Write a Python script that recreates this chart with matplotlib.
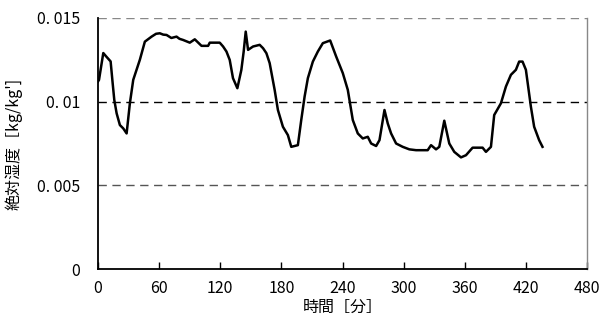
import matplotlib
matplotlib.use("Agg")
import matplotlib.pyplot as plt

plt.rcParams['font.family'] = ['Noto Sans CJK JP', 'DejaVu Sans']

# time [min] and absolute humidity [kg/kg']
minutes = [0, 1, 5.2, 8, 12.4, 14.4, 16, 18.3, 21.5, 24.8, 28.1, 31.3, 34.6, 41.1, 46,
           52.6, 57, 60.7, 64, 67.3, 72, 77.1, 80, 83.6, 90.1, 95, 101.6, 108.1, 109.7,
           119.5, 122.8, 126.1, 129.3, 132.5, 136.8, 140.7, 143, 145, 147.3, 152.2,
           158.7, 162, 165.3, 168.5, 173.4, 176.6, 181.5, 186.4, 189.7, 196.2, 199.5,
           202.8, 206, 210.9, 215.8, 220.7, 227.9, 233.8, 240.3, 245.2, 250.1, 255,
           259.9, 264.8, 268.1, 273, 276.3, 281.2, 284.4, 287.7, 292.6, 299.1, 305.6,
           312.2, 323.6, 326.9, 331.8, 335, 339.9, 344.8, 349.7, 356.3, 361.2, 367.7,
           377.5, 380.8, 385.7, 388.9, 395.5, 400.4, 405.3, 410.2, 413.4, 416.7, 420,
           424.9, 428.1, 433, 436.3]
humidity = [0.0112, 0.0113, 0.0129, 0.0127, 0.0124, 0.0111, 0.0101, 0.0093, 0.0086,
            0.0084, 0.0081, 0.0099, 0.0113, 0.0125, 0.01358, 0.01388, 0.01405, 0.01408,
            0.01400, 0.01398, 0.01380, 0.01388, 0.01375, 0.01368, 0.01352, 0.01372,
            0.01333, 0.01333, 0.01352, 0.01352, 0.01329, 0.01299, 0.01249, 0.0114,
            0.0108, 0.01189, 0.01299, 0.01418, 0.01309, 0.01329, 0.01339, 0.01319,
            0.01289, 0.0123, 0.0107, 0.0095, 0.0085, 0.0080, 0.0073, 0.0074, 0.0089,
            0.0103, 0.0114, 0.01239, 0.01299, 0.01349, 0.01365, 0.01269, 0.0117,
            0.0107, 0.0089, 0.0081, 0.0078, 0.0079, 0.0075, 0.00735, 0.0077, 0.0095,
            0.0087, 0.0081, 0.0075, 0.0073, 0.00715, 0.0071, 0.0071, 0.0074, 0.00715,
            0.0073, 0.00886, 0.0075, 0.0070, 0.00667, 0.0068, 0.00725, 0.00725, 0.0070,
            0.0073, 0.0092, 0.0099, 0.0109, 0.0116, 0.0119, 0.01239, 0.01239, 0.0119,
            0.0097, 0.0085, 0.0077, 0.0073]

x_ticks = [0, 60, 120, 180, 240, 300, 360, 420, 480]
y_ticks = [0, 0.005, 0.01, 0.015]
y_labels = ['0', '0. 005', '0. 01', '0. 015']

fig = plt.figure(figsize=(6.03, 3.31), dpi=100)
ax = fig.add_axes([0.1625, 0.187, 0.811, 0.759])

for y, c in [(0.005, '#555555'), (0.01, '#000000'), (0.015, '#888888')]:
    ax.axhline(y, color=c, lw=1, ls=(0, (6, 4)), zorder=1)

ax.plot(minutes, humidity, color='black', lw=1.8, zorder=3)

ax.set_xlim(0, 480)
ax.set_ylim(0, 0.015)
ax.set_xticks(x_ticks)
ax.set_yticks(y_ticks)
ax.set_yticklabels(y_labels)
ax.tick_params(axis='x', direction='in', length=5, width=1, labelsize=11.5, pad=8)
ax.tick_params(axis='y', length=0, labelsize=11.5, pad=13)

ax.spines['top'].set_visible(False)
ax.spines['right'].set_color('#888888')
ax.spines['right'].set_linewidth(1)
ax.spines['left'].set_linewidth(1.3)
ax.spines['bottom'].set_linewidth(1.3)

ax.set_xlabel('時間［分］', fontsize=11.5, labelpad=1)
ax.set_ylabel("絶対湿度［kg/kg']", fontsize=11.5, labelpad=10)

fig.savefig('out.png', dpi=100)
